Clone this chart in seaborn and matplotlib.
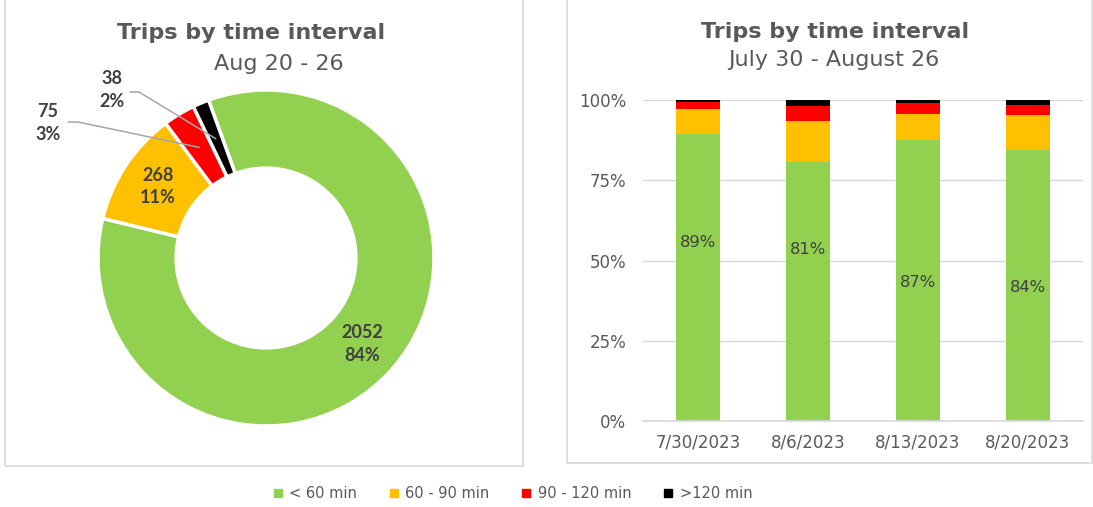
import numpy as np
import pandas as pd
import matplotlib
matplotlib.use("Agg")
import matplotlib.pyplot as plt
from matplotlib.patches import Rectangle
from matplotlib.lines import Line2D
import seaborn as sns

# donut: week of Aug 20 - 26
intervals = ["< 60 min", "60 - 90 min", "90 - 120 min", ">120 min"]
trip_counts = [2052, 268, 75, 38]
trip_pcts = ["84%", "11%", "3%", "2%"]

# stacked bars: share of trips per week (%)
weeks = ["7/30/2023", "8/6/2023", "8/13/2023", "8/20/2023"]
share_lt60 = [89.3, 80.8, 87.4, 84.3]
share_60_90 = [7.8, 12.7, 8.2, 11.0]
share_90_120 = [2.3, 4.7, 3.4, 3.1]
share_gt120 = [0.6, 1.8, 1.0, 1.6]
green_labels = ["89%", "81%", "87%", "84%"]

colors = ["#92d050", "#ffc000", "#ff0000", "#000000"]
txt = "#595959"
lbl = "#404040"

sns.set_theme(style="white")
plt.rcParams["font.family"] = "sans-serif"
plt.rcParams["font.sans-serif"] = ["DejaVu Sans"]

W, H = 1093, 507
fig = plt.figure(figsize=(W / 100, H / 100), dpi=100)


def box(l, t, r, b):
    return [l / W, 1 - b / H, (r - l) / W, (b - t) / H]


def fx(x):
    return x / W


def fy(y):
    return 1 - y / H


# panel frames
for l, t, r, b in [(5, -2, 523, 466), (567, -2, 1092, 463)]:
    fig.patches.append(Rectangle((l / W, 1 - b / H), (r - l) / W, (b - t) / H,
                                 transform=fig.transFigure, fill=False,
                                 edgecolor="#d9d9d9", linewidth=1.2))

# ---------- donut ----------
cx, cy, R = 266, 258, 168
ax1 = fig.add_axes(box(5, 0, 523, 466))
wedges, _ = ax1.pie(trip_counts, colors=colors, startangle=110, counterclock=False,
                    radius=1, wedgeprops=dict(width=0.465, edgecolor="white", linewidth=2.5))
ax1.set_xlim((5 - cx) / R, (523 - cx) / R)
ax1.set_ylim((cy - 466) / R, (cy - 0) / R)
ax1.axis("off")


def mid_point(w, r):
    a = np.deg2rad((w.theta1 + w.theta2) / 2)
    return r * np.cos(a), r * np.sin(a)


lbl_font = dict(family="Lato", fontweight="bold", fontsize=13, color=lbl,
                ha="center", va="center", linespacing=1.4)
for i in (0, 1):
    x, y = mid_point(wedges[i], 0.77)
    ax1.text(x, y, f"{trip_counts[i]}\n{trip_pcts[i]}", **lbl_font)

# outside labels with leader lines
outside = {2: ((48, 123), (68, 122), (78, 122)),
           3: ((112, 90), (130, 92), (139, 92))}
for i, ((tx, ty), (sx, sy), (ex, ey)) in outside.items():
    ax1.text((tx - cx) / R, (cy - ty) / R, f"{trip_counts[i]}\n{trip_pcts[i]}", **lbl_font)
    mx, my = mid_point(wedges[i], 0.77)
    ax1.plot([(sx - cx) / R, (ex - cx) / R, mx], [(cy - sy) / R, (cy - ey) / R, my],
             color="#a6a6a6", linewidth=1.1)

fig.text(fx(251), fy(33), "Trips by time interval", ha="center", va="center",
         fontsize=16, fontweight="bold", color=txt)
fig.text(fx(279), fy(64), "Aug 20 - 26", ha="center", va="center",
         fontsize=16, color=txt)

# ---------- stacked bars ----------
ax2 = fig.add_axes(box(643, 100, 1083, 421))
df = pd.DataFrame({"week": weeks, "lt60": share_lt60, "m60": share_60_90,
                   "m90": share_90_120, "gt120": share_gt120})
cum = df[["lt60", "m60", "m90", "gt120"]].cumsum(axis=1)
for col, c in zip(["gt120", "m90", "m60", "lt60"], colors[::-1]):
    sns.barplot(x=df["week"], y=cum[col], color=c, width=0.4, ax=ax2,
                saturation=1, edgecolor="none")

ax2.set_ylim(0, 100)
ax2.set_xlim(-0.5, 3.5)
ax2.set_yticks([0, 25, 50, 75, 100])
ax2.set_yticklabels(["0%", "25%", "50%", "75%", "100%"])
ax2.set_xlabel("")
ax2.set_ylabel("")
ax2.grid(axis="y", color="#d9d9d9", linewidth=1)
ax2.set_axisbelow(True)
for s in ["top", "right", "left"]:
    ax2.spines[s].set_visible(False)
ax2.spines["bottom"].set_color("#d9d9d9")
ax2.tick_params(axis="both", length=0, labelsize=12, colors=txt)
ax2.tick_params(axis="y", pad=12)
ax2.tick_params(axis="x", pad=9)

label_y = [55.5, 53.3, 43.3, 41.7]
for i, t in enumerate(green_labels):
    ax2.text(i, label_y[i], t, ha="center", va="center", fontsize=11.8, color=lbl)

fig.text(fx(835), fy(32), "Trips by time interval", ha="center", va="center",
         fontsize=16, fontweight="bold", color=txt)
fig.text(fx(834), fy(60), "July 30 - August 26", ha="center", va="center",
         fontsize=16, color=txt)

# ---------- legend ----------
handles = [Line2D([], [], marker="s", linestyle="none", markersize=5.5,
                  markerfacecolor=c, markeredgecolor=c) for c in colors]
fig.legend(handles, intervals, loc="center", bbox_to_anchor=(fx(512), fy(494)),
           ncol=4, frameon=False, fontsize=10.5, handlelength=0.8, handletextpad=0.4,
           columnspacing=2.1, labelcolor=txt)

fig.savefig("out.png", dpi=100)
